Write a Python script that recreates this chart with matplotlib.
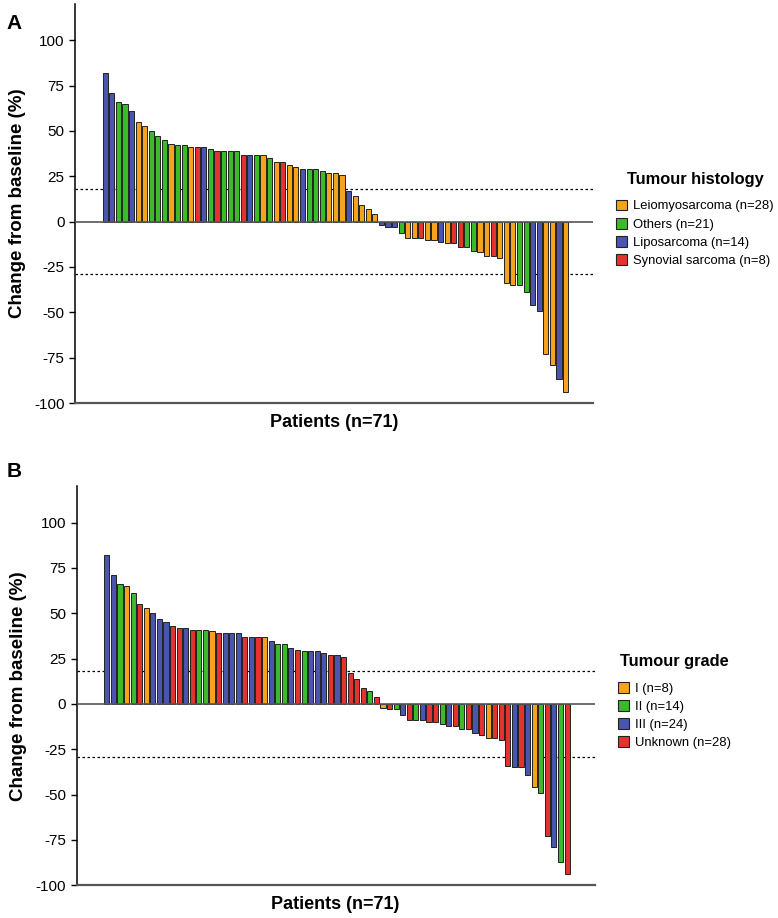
import matplotlib.pyplot as plt
from matplotlib.patches import Patch

plt.rcParams['font.family'] = ['Liberation Sans', 'DejaVu Sans']
plt.rcParams['axes.unicode_minus'] = False

# change from baseline (%) per patient, sorted
change = [82, 71, 66, 65, 61, 55, 53, 50, 47, 45, 43, 42, 42, 41, 41, 41, 40, 39, 39, 39,
          39, 37, 37, 37, 37, 35, 33, 33, 31, 30, 29, 29, 29, 28, 27, 27, 26, 17, 14, 9,
          7, 4, -2, -3, -3, -6, -9, -9, -9, -10, -10, -11, -12, -12, -14, -14, -16, -17, -19, -19,
          -20, -34, -35, -35, -39, -46, -49, -73, -79, -87, -94]

# histology code per patient: L=Leiomyosarcoma, O=Others, P=Liposarcoma, S=Synovial sarcoma
histology = list('PPOOPLLOOOLOOLSPOSOOOSPOLOLSLLPOOOLLLPL'
                 'LLLPPPOLLSLL'
                 'PLSSOOLLSLLLOOPPLLPL')

# grade code per patient: 1=I, 2=II, 3=III, U=Unknown
grade = list('33212U1333UU3U221U333U3U13223U2333U3UUU'
             'U2U1U23U23UU'
             '23U2U3U1UUU3U312U32U')

hist_names = ['Leiomyosarcoma (n=28)', 'Others (n=21)', 'Liposarcoma (n=14)', 'Synovial sarcoma (n=8)']
hist_codes = ['L', 'O', 'P', 'S']
grade_names = ['I (n=8)', 'II (n=14)', 'III (n=24)', 'Unknown (n=28)']
grade_codes = ['1', '2', '3', 'U']

orange = '#F5A31C'
green = '#3DBA2C'
blue = '#4A55B0'
red = '#E2332E'
palette = [orange, green, blue, red]

upper_cut = 18
lower_cut = -29


def waterfall(ax, codes, code_list, names, title):
    cmap = dict(zip(code_list, palette))
    cols = [cmap[c] for c in codes]
    xs = range(len(change))
    ax.bar(xs, change, width=0.78, color=cols, edgecolor='#222222', linewidth=0.7, zorder=3)
    ax.axhline(0, color='#555555', lw=1.2, zorder=4)
    ax.axhline(upper_cut, color='black', lw=0.9, ls=(0, (2, 2)), zorder=2)
    ax.axhline(lower_cut, color='black', lw=0.9, ls=(0, (2, 2)), zorder=2)
    ax.set_xlim(-4.6, 74.2)
    ax.set_ylim(-100, 120)
    ax.set_yticks([-100, -75, -50, -25, 0, 25, 50, 75, 100])
    ax.set_xticks([])
    ax.tick_params(axis='y', labelsize=11, length=4, width=1, colors='black')
    for s in ['top', 'right']:
        ax.spines[s].set_visible(False)
    ax.spines['left'].set_linewidth(1.1)
    ax.spines['bottom'].set_linewidth(1.6)
    ax.spines['bottom'].set_color('#555555')
    ax.set_ylabel('Change from baseline (%)', fontsize=13.5, fontweight='bold', labelpad=6)
    ax.set_xlabel('Patients (n=71)', fontsize=13, fontweight='bold', labelpad=8)
    handles = [Patch(facecolor=c, edgecolor='#222222', linewidth=0.8) for c in palette]
    leg = ax.legend(handles, names, title=title, loc='center left', bbox_to_anchor=(1.027, 0.46),
                    frameon=False, fontsize=9.4, handlelength=0.85, handleheight=0.9,
                    handletextpad=0.45, labelspacing=0.4, alignment='center', borderaxespad=0.3)
    leg.get_title().set_fontsize(11.8)
    leg.get_title().set_fontweight('bold')
    leg._legend_box.sep = 9


fig = plt.figure(figsize=(7.78, 9.18), dpi=100)
axA = fig.add_axes([0.0964, 0.561, 0.666, 0.4346])
axB = fig.add_axes([0.0984, 0.0356, 0.666, 0.4346])

waterfall(axA, histology, hist_codes, hist_names, 'Tumour histology')
waterfall(axB, grade, grade_codes, grade_names, 'Tumour grade')

fig.text(0.008, 0.985, 'A', fontsize=15, fontweight='bold', va='top')
fig.text(0.008, 0.497, 'B', fontsize=15, fontweight='bold', va='top')

fig.savefig('out.png', dpi=100)
